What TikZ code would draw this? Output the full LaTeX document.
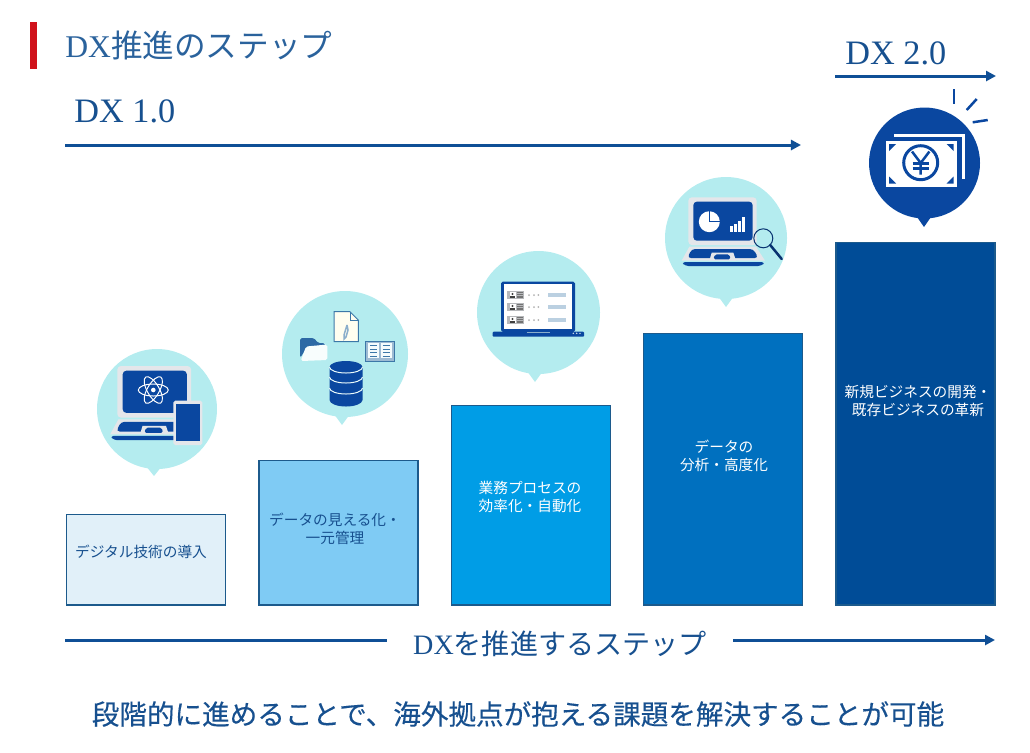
\documentclass[tikz,border=0pt]{standalone}
\usepackage{fontspec}
\setmainfont{Noto Sans CJK JP}
\newfontfamily\dxfont{Liberation Serif}
\newfontfamily\heavyfont[FakeBold=0.25]{Noto Sans CJK JP}
\usetikzlibrary{arrows.meta}
\definecolor{dxline}{HTML}{0F4F96}
\definecolor{dxtitle}{HTML}{2A629C}
\definecolor{dxtext}{HTML}{17508F}
\definecolor{dxred}{HTML}{D0121B}
\definecolor{bubble}{HTML}{B4ECEF}
\definecolor{iconblue}{HTML}{0A47A0}
\definecolor{lid}{HTML}{E4E6EA}
\definecolor{barline}{HTML}{1C5A8C}
\definecolor{steel}{HTML}{3C78A8}
\tikzset{
	steparrow/.style={draw=dxline, line width=1.7pt, -{Triangle[length=5.7pt,width=5.7pt]}},
	stepline/.style={draw=dxline, line width=1.7pt},
	head/.style={font=\fontsize{19.5pt}{22pt}\selectfont\dxfont, text=dxtext, inner sep=0pt},
	barlabel/.style={font=\fontsize{8.35pt}{10.2pt}\selectfont, align=center, inner sep=0pt},
	thinline/.style={line width=#1*0.5669pt}
}
% laptop drawn in the coordinates of a 3x crop
\newcommand{\lapicon}{
	\fill [lid, rounded corners=2] (115,82) rectangle (320,225);
	\fill [iconblue, rounded corners=2] (130,95) rectangle (308,212);
	\fill [lid] (118,230) -- (318,230) -- (345,272) -- (95,272) -- cycle;
	\fill [iconblue, rounded corners=2] (125,237) -- (310,237) -- (325,264) -- (112,264) -- cycle;
	\fill [lid] (185,248) -- (250,248) -- (258,272) -- (178,272) -- cycle;
	\fill [iconblue, rounded corners=1] (195,253) -- (238,253) -- (242,268) -- (190,268) -- cycle;
	\fill [iconblue, rounded corners=2] (95,276) -- (345,276) -- (335,288) -- (105,288) -- cycle;
}
\begin{document}
\begin{tikzpicture}[x=0.02cm,y=-0.02cm]
\useasboundingbox (0,0) rectangle (1030,752);

\fill [dxred] (30,22) rectangle (37,69);
\node [anchor=west, inner sep=0pt, text=dxtitle, font=\fontsize{18pt}{20pt}\selectfont] at (65,45) (title) {{\dxfont DX}推進のステップ};

\node [head, anchor=west] at (74,111) (dxone) {DX 1.0};
\node [head, anchor=west] at (845,53) (dxtwo) {DX 2.0};
\coordinate (onefrom) at (65,145);
\coordinate (oneto) at (801,145);
\coordinate (twofrom) at (835,76);
\coordinate (twoto) at (996,76);
\draw [steparrow] (onefrom) -- (oneto);
\draw [steparrow] (twofrom) -- (twoto);

\foreach \x/\y/\col in {
		66.5/514.5/E1F0F9,
		259/460.5/7FCBF4,
		451.5/405.5/009DE6,
		643.5/333.5/0070BF,
		836/242.5/004C97}
	{
		\definecolor{barfill}{HTML}{\col}
		\draw [barline, fill=barfill, thinline=1.3] (\x,\y) rectangle ({\x+159},605);
	}

\node [barlabel, text=dxtext] at (141,552) (labone) {デジタル技術の導入};
\node [barlabel, text=dxtext] at (335,529) (labtwo) {データの見える化・\\一元管理};
\node [barlabel, text=white] at (530,497) (labthree) {業務プロセスの\\効率化・自動化};
\node [barlabel, text=white] at (724,456) (labfour) {データの\\分析・高度化};
\node [barlabel, text=white] at (918,401) (labfive) {新規ビジネスの開発・\\既存ビジネスの革新};

% bubbles
\foreach \x/\y/\r/\tx/\ty/\col in {
		157/409/60/154/476/bubble,
		345/354/63/342/425/bubble,
		538.5/312.5/61.5/535/382/bubble,
		726/238/61/726/307/bubble,
		924.5/163/55.5/924/227/iconblue}
	{
		\fill [\col] (\x,\y) circle (\r);
		\fill [\col] ({\tx-8},{\y+\r-3}) -- (\tx,\ty) -- ({\tx+8},{\y+\r-3}) -- cycle;
	}

% first icon
\begin{scope}[shift={(75.93,336.5)},scale=0.36]
	\lapicon
\end{scope}
\foreach \a in {0,60,120}
	\draw [white, thinline=1, rotate around={\a:(153.3,390)}] (153.3,390) ellipse (15 and 6);
\fill [white] (153.3,390) circle (2.3);
\fill [lid, rounded corners=1] (173.3,400.7) rectangle (202.3,445);
\fill [iconblue] (176,404) rectangle (200,441);

% second icon
\draw [steel, fill=yellow!6!white, thinline=1] (334,311.7) -- (350,311.7) -- (358.3,320) -- (358.3,341.7) -- (334,341.7) -- cycle;
\draw [steel, thinline=1] (350,311.7) -- (350,320) -- (358.3,320);
\draw [steel!60!white, thinline=1.5] (347,325) -- (348,330) -- (346,337) -- (344,339) -- (344,335) -- (347,325);
\fill [steel!70!iconblue, rounded corners=1] (300,358) -- (300,338) -- (314,338) -- (318,343) -- (325,343) -- (325,349) -- (306,349) -- cycle;
\fill [white!90!bubble, rounded corners=1] (306,346.5) -- (327.3,344.5) -- (327.3,360) -- (300.7,361) -- cycle;
\draw [steel, fill=steel!50!white, thinline=1] (365.5,341) rectangle (394,361);
\fill [white!85!bubble] (368,342.5) rectangle (379,358);
\fill [white!85!bubble] (380.5,342.5) rectangle (391.5,358);
\foreach \y in {345.5,349,352.5,356}
	\draw [steel, thinline=1] (370,\y) -- (377,\y) (382.5,\y) -- (389.5,\y);
\fill [iconblue] (329.5,367) -- (329.5,400) arc (180:0:16.5 and 6.5) -- (362.5,367) arc (0:-180:16.5 and 6) -- cycle;
\foreach \y in {367,377,388}
	\draw [white!70!bubble, thinline=1] (329.5,\y) arc (180:0:16.5 and 6);

% third icon
\fill [iconblue, rounded corners=1] (501,281.7) rectangle (575,332);
\fill [white] (504,284.3) rectangle (572.3,329);
\fill [iconblue, rounded corners=0.5] (492.7,331.7) rectangle (584,336.7);
\draw [steel!60!white, thinline=1] (526.7,332.9) -- (550,332.9);
\foreach \x in {573.3,576.7,580}
	\fill [white!80!steel] (\x,333.3) circle (0.8);
\foreach \y in {295,307,320}
	{
		\fill [lid!80!black] (507.3,{\y-4}) rectangle (524,{\y+4});
		\fill [white] (509.5,{\y-3}) rectangle (515.5,{\y+3});
		\fill [black!75] (512.5,{\y-1}) circle (1.2);
		\fill [black!75] (510.3,{\y+3}) rectangle (514.7,{\y+0.5});
		\foreach \k in {-2.5,-0.8,0.9,2.6}
			\draw [black!55, thinline=0.6] (517,{\y+\k}) -- (523,{\y+\k});
		\foreach \x in {529,534,538.3}
			\fill [black!30] (\x,\y) circle (1);
		\fill [steel!35!white] (548.3,{\y-1.7}) rectangle (566,{\y+1.7});
	}

% fourth icon
\begin{scope}[shift={(650,170)},scale=1/3]
	\lapicon
\end{scope}
\fill [white] (709.3,221.7) circle (10.5);
\draw [iconblue, thinline=1.5] (709.3,210) -- (709.3,221.7) -- (721,221.7);
\foreach \x/\y in {729.5/226,733.5/223.5,737.5/220.5,741.5/217}
	\fill [white] (\x,\y) rectangle ({\x+3},232);
\draw [iconblue!70!black, thinline=1] (763.3,238.3) circle (9.5);
\draw [iconblue!70!black, thinline=2.5, line cap=round] (770.2,245) -- (781.7,259);

% fifth icon
\foreach \a/\b/\c/\d in {954/89/954/104,976.7/99/966.7/110,987.7/120/972.7/122.3}
	\draw [iconblue, thinline=2.5] (\a,\b) -- (\c,\d);
\draw [white, thinline=3] (894,135) -- (963.3,135) -- (963.3,179.3);
\fill [white] (885.7,140.7) rectangle (956.7,186.7);
\fill [iconblue] (889,144) -- (896,144) -- (889,151) -- cycle;
\fill [iconblue] (953.5,144) -- (946.5,144) -- (953.5,151) -- cycle;
\fill [iconblue] (889,183.5) -- (896,183.5) -- (889,176.5) -- cycle;
\fill [iconblue] (953.5,183.5) -- (946.5,183.5) -- (953.5,176.5) -- cycle;
\draw [iconblue, thinline=3] (920.7,162.7) circle (17);
\draw [iconblue, thinline=2.5] (912,151.5) -- (920.7,163) -- (929.4,151.5) (920.7,163) -- (920.7,174.5);
\draw [iconblue, thinline=2.2] (912.5,163.5) -- (929,163.5) (912.5,168.5) -- (929,168.5);

% bottom
\node [inner sep=0pt, text=dxtext, font=\fontsize{16pt}{18pt}\selectfont] at (560,644) (steps) {{\dxfont DX}を推進するステップ};
\node [inner sep=0pt, text=dxtext, font=\fontsize{15.7pt}{18pt}\selectfont\heavyfont] at (518,714) (result) {段階的に進めることで、海外拠点が抱える課題を解決することが可能};
\coordinate (stepfrom) at (65,640);
\coordinate (stepmid) at (387,640);
\coordinate (stepnext) at (733,640);
\coordinate (stepto) at (995,640);
\draw [stepline] (stepfrom) -- (stepmid);
\draw [steparrow] (stepnext) -- (stepto);
\end{tikzpicture}
\end{document}
